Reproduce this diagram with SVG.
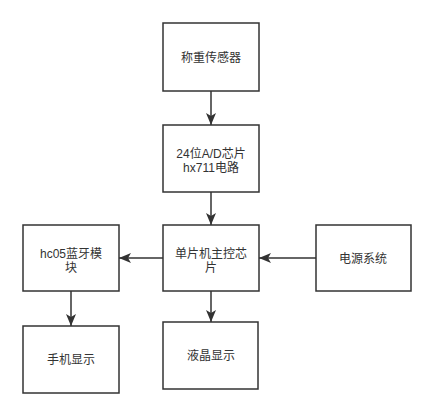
<svg xmlns="http://www.w3.org/2000/svg" width="435" height="417" viewBox="0 0 435 417">
<defs>
<marker id="arr" viewBox="0 0 12 10" refX="12" refY="5" markerWidth="12" markerHeight="10" markerUnits="userSpaceOnUse" orient="auto">
<path d="M0,0 L12,5 L0,10 L3,5 Z" fill="#333"/>
</marker>
<style>
.box{fill:#fff;stroke:#333;stroke-width:1.5}
.t{font-family:"Liberation Sans","Noto Sans CJK SC",sans-serif;font-size:12px;fill:#333;text-anchor:middle}
.c{stroke:#333;stroke-width:1.5;fill:none;marker-end:url(#arr)}
</style>
</defs>
<rect width="435" height="417" fill="#fff"/>
<g id="connectors">
<line class="c" x1="211" y1="91" x2="211" y2="125"/>
<line class="c" x1="211" y1="192" x2="211" y2="225"/>
<line class="c" x1="316" y1="258" x2="259" y2="258"/>
<line class="c" x1="163" y1="258" x2="119" y2="258"/>
<line class="c" x1="71" y1="291" x2="71" y2="326"/>
<line class="c" x1="211" y1="291" x2="211" y2="322"/>
</g>
<g id="sensor"><rect class="box" x="163" y="23" width="96" height="68"/><text class="t" x="211" y="62">称重传感器</text></g>
<g id="adc"><rect class="box" x="163" y="125" width="96" height="67"/><text class="t" x="211" y="158">24位A/D芯片</text><text class="t" x="211" y="172">hx711电路</text></g>
<g id="mcu"><rect class="box" x="163" y="225" width="96" height="66"/><text class="t" x="211" y="258">单片机主控芯</text><text class="t" x="211" y="272">片</text></g>
<g id="bt"><rect class="box" x="23" y="225" width="96" height="66"/><text class="t" x="71" y="258">hc05蓝牙模</text><text class="t" x="71" y="272">块</text></g>
<g id="power"><rect class="box" x="316" y="225" width="95" height="66"/><text class="t" x="363" y="263">电源系统</text></g>
<g id="phone"><rect class="box" x="23" y="326" width="96" height="67"/><text class="t" x="71" y="364">手机显示</text></g>
<g id="lcd"><rect class="box" x="163" y="322" width="95" height="67"/><text class="t" x="211" y="360">液晶显示</text></g>
</svg>
